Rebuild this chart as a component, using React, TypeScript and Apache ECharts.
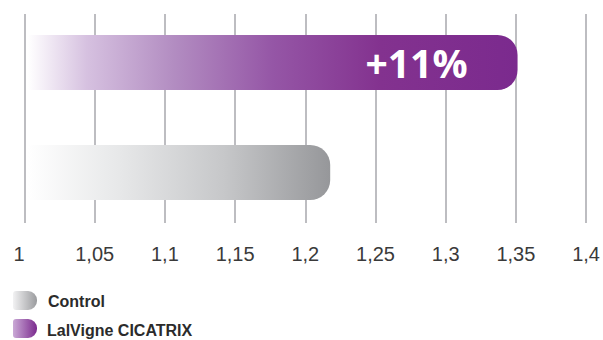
import React, { useEffect, useRef } from "react";
import * as echarts from "echarts";

const categories = ["Control", "LalVigne CICATRIX"];
const values = [1.217, 1.35];
const axisMin = 1;
const axisMax = 1.4;
const axisStep = 0.05;
const legendNames = ["Control", "LalVigne CICATRIX"];

const GAP = 0.0025;

const purpleGrad = new echarts.graphic.LinearGradient(0, 0, 1, 0, [
  { offset: 0, color: "#ffffff" },
  { offset: 0.12, color: "#d6c1e0" },
  { offset: 0.3, color: "#b28cc1" },
  { offset: 0.5, color: "#9556a6" },
  { offset: 0.72, color: "#83328f" },
  { offset: 1, color: "#7b2a8e" },
]);
const grayGrad = new echarts.graphic.LinearGradient(0, 0, 1, 0, [
  { offset: 0, color: "#ffffff" },
  { offset: 0.3, color: "#e7e8e9" },
  { offset: 0.65, color: "#c6c7c9" },
  { offset: 1, color: "#96979a" },
]);

export default function App() {
  const ref = useRef<HTMLDivElement>(null);
  useEffect(() => {
    if (!ref.current) return;
    const chart = echarts.init(ref.current, undefined, { renderer: "svg" });
    const pct = Math.round((values[1] / values[0] - 1) * 100);
    const fmt = (v: number) => String(Number(v.toFixed(2))).replace(".", ",");
    chart.setOption({
      animation: false,
      grid: [
        { left: 24.5, right: 15, top: 14, bottom: 117 },
        { left: 24.5, right: 15, top: 7.5, bottom: 112.5 },
      ],
      xAxis: [
        {
          type: "value",
          gridIndex: 0,
          min: axisMin,
          max: axisMax,
          interval: axisStep,
          axisLine: { show: false },
          axisTick: { show: false },
          splitLine: { show: true, lineStyle: { color: "#bdbdc1", width: 2 } },
          axisLabel: {
            formatter: fmt,
            fontSize: 20,
            color: "#3a3a3a",
            fontFamily: "Liberation Sans",
            margin: 21,
            alignMinLabel: "right",
          },
        },
        {
          type: "value",
          gridIndex: 1,
          min: axisMin,
          max: axisMax,
          show: false,
          splitLine: { show: false },
        },
      ],
      yAxis: [
        { type: "value", gridIndex: 0, show: false, min: 0, max: 1, splitLine: { show: false } },
        { type: "category", gridIndex: 1, data: categories, show: false },
      ],
      series: [
        {
          type: "bar",
          xAxisIndex: 1,
          yAxisIndex: 1,
          stack: "s",
          barWidth: 55,
          itemStyle: { color: "transparent" },
          data: values.map(() => axisMin + GAP),
          silent: true,
        },
        {
          type: "bar",
          xAxisIndex: 1,
          yAxisIndex: 1,
          stack: "s",
          barWidth: 55,
          data: [
            {
              value: values[0] - axisMin - GAP,
              itemStyle: { color: grayGrad, borderRadius: [0, 20, 20, 0] },
            },
            {
              value: values[1] - axisMin - GAP,
              itemStyle: { color: purpleGrad, borderRadius: [0, 20, 20, 0] },
              label: {
                show: true,
                position: "insideRight",
                distance: 50,
                formatter: `+${pct}%`,
                color: "#ffffff",
                fontSize: 39,
                fontWeight: "bold",
                fontFamily: "Open Sans",
              },
            },
          ],
        },
      ],
      graphic: [
        {
          type: "rect",
          left: 13,
          top: 291,
          shape: { width: 24, height: 19, r: [3, 9, 9, 3] },
          style: {
            fill: new echarts.graphic.LinearGradient(0, 0, 1, 0, [
              { offset: 0, color: "#f2f2f3" },
              { offset: 1, color: "#9a9b9e" },
            ]),
          },
        },
        {
          type: "text",
          left: 48,
          top: 293,
          style: {
            text: legendNames[0],
            fontSize: 16,
            fontWeight: "bold",
            fontFamily: "Liberation Sans",
            fill: "#2b2b2b",
          },
        },
        {
          type: "rect",
          left: 13,
          top: 319,
          shape: { width: 24, height: 19, r: [3, 9, 9, 3] },
          style: {
            fill: new echarts.graphic.LinearGradient(0, 0, 1, 0, [
              { offset: 0, color: "#caa9d6" },
              { offset: 1, color: "#7b2a8e" },
            ]),
          },
        },
        {
          type: "text",
          left: 47,
          top: 322,
          style: {
            text: legendNames[1],
            fontSize: 16,
            fontWeight: "bold",
            fontFamily: "Liberation Sans",
            fill: "#2b2b2b",
          },
        },
      ],
    });
    return () => chart.dispose();
  }, []);
  return (
    <div
      ref={ref}
      style={{ position: "absolute", left: 0, top: 0, width: 603, height: 340 }}
    />
  );
}
